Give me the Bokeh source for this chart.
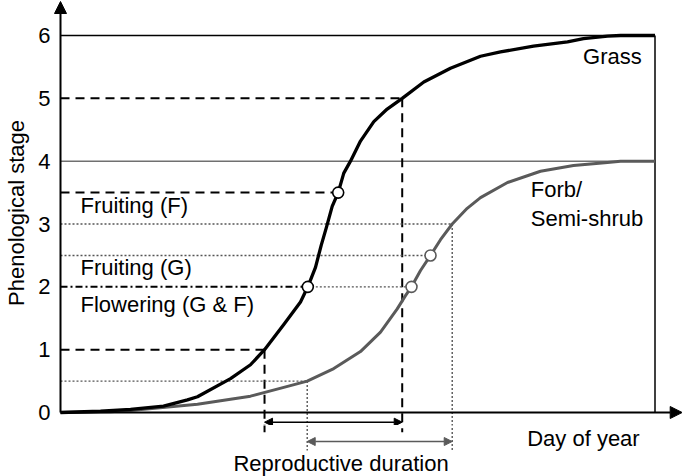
import numpy as np
from bokeh.plotting import figure
from bokeh.layouts import column
from bokeh.models import Arrow, NormalHead, FixedTicker, Range1d
from bokeh.core.properties import value
from bokeh.embed import file_html
from bokeh.resources import INLINE

# ---------------- data (schematic: day index 0-100, phenological stage 0-6) -------------
grass_day = [0, 6.73, 11.78, 17.33, 21.36, 23.04, 28.60, 31.96, 34.32, 37.56, 40.37, 41.60,
             42.89, 43.85, 44.74, 45.70, 46.71, 47.65, 48.78, 50.46, 52.70, 54.95, 57.48,
             61.11, 65.60, 70.65, 74.01, 79.56, 85.28, 87.97, 92.01, 94.20, 100]
grass_stage = [0, 0.02, 0.05, 0.1, 0.2, 0.25, 0.54, 0.76, 1.0, 1.40, 1.76, 2.0,
               2.31, 2.66, 2.95, 3.28, 3.5, 3.81, 4.0, 4.32, 4.63, 4.83, 5.0,
               5.26, 5.48, 5.67, 5.74, 5.83, 5.9, 5.95, 5.99, 6.0, 6.0]

forb_day = [0, 8.41, 11.78, 23.04, 28.60, 31.96, 37.56, 41.50, 45.97, 50.46, 53.83, 56.64,
            58.03, 59.04, 60.56, 62.24, 63.92, 65.89, 68.41, 70.65, 75.19, 80.74, 86.29,
            92.01, 94.20, 100]
forb_stage = [0, 0.01, 0.03, 0.13, 0.21, 0.26, 0.40, 0.5, 0.70, 0.97, 1.28, 1.65,
              1.86, 2.0, 2.26, 2.5, 2.75, 3.0, 3.25, 3.42, 3.66, 3.84, 3.93,
              3.98, 4.0, 4.0]

stage_ticks = [0, 1, 2, 3, 4, 5, 6]
grass_max, forb_max = 6, 4
grass_repro = [1, 5]        # start / end of reproductive duration (grass)
forb_repro = [0.5, 3]       # start / end of reproductive duration (forb)
grass_fruit = 3.5
forb_fruit = 2.5
flowering = 2
day_end = 100

# ---------------- layout ----------------
W, H_TOP, H_BOT = 682, 425, 51
x0_c, ux = 60.0, 5.945      # canvas x of day 0, px per day unit
y0_c, uy = 412.0, 62.83     # canvas y of stage 0, px per stage unit
LEFT = 50
x_range = Range1d((LEFT - x0_c) / ux, (W - x0_c) / ux)
y_top = y0_c / uy
y_split = -(H_TOP - y0_c) / uy
y_bottom = -(H_TOP + H_BOT - y0_c) / uy
TFIX = 8 / uy               # text baseline correction

FONT = "Liberation Sans"
FS = "22px"
BLACK, GREY, GREY_L, DOT = "#000000", "#5a5a5a", "#707070", "#555555"


def gx(s):
    return float(np.interp(s, grass_stage[:-1], grass_day[:-1]))


def fx(s):
    return float(np.interp(s, forb_stage[:-1], forb_day[:-1]))


def base_fig(h, yr, yaxis):
    f = figure(width=W, height=h, x_range=x_range, y_range=yr,
               output_backend="svg", toolbar_location=None, x_axis_location=None,
               y_axis_location="left" if yaxis else None, min_border_left=LEFT,
               min_border_right=0, min_border_top=0, min_border_bottom=0)
    f.outline_line_color = None
    f.grid.visible = False
    f.background_fill_color = "white"
    f.border_fill_color = "white"
    return f


p = base_fig(H_TOP, Range1d(y_split, y_top), True)
p2 = base_fig(H_BOT, Range1d(y_bottom, y_split), False)

ax = p.yaxis[0]
ax.ticker = FixedTicker(ticks=stage_ticks)
ax.axis_line_color = None
ax.major_tick_line_color = None
ax.minor_tick_line_color = None
ax.major_tick_out = 0
ax.major_tick_in = 0
ax.major_label_standoff = 0
ax.major_label_text_font = FONT
ax.major_label_text_font_size = FS
ax.major_label_text_color = "black"
ax.axis_label = "Phenological stage"
ax.axis_label_text_font = FONT
ax.axis_label_text_font_size = FS
ax.axis_label_text_font_style = "normal"
ax.axis_label_text_color = "black"
ax.axis_label_standoff = 6

# max-stage lines and right border
p.segment(x0=[0], y0=[grass_max], x1=[day_end], y1=[grass_max], line_color=BLACK, line_width=1.5)
p.segment(x0=[0], y0=[forb_max], x1=[day_end], y1=[forb_max], line_color=GREY_L, line_width=1.5)
p.segment(x0=[day_end], y0=[0], x1=[day_end], y1=[grass_max], line_color=BLACK, line_width=1.5)

# dashed black reference lines (grass)
gh = [grass_repro[0], grass_fruit, grass_repro[1]]
p.segment(x0=[0] * 3, y0=gh, x1=[gx(s) for s in gh], y1=gh,
          line_color=BLACK, line_width=2, line_dash="9 6")
for f in (p, p2):
    f.segment(x0=[gx(s) for s in grass_repro], y0=grass_repro,
              x1=[gx(s) for s in grass_repro], y1=[-0.314, -0.314],
              line_color=BLACK, line_width=2, line_dash="9 6")
# dash-dot flowering line
p.segment(x0=[0], y0=[flowering], x1=[gx(flowering)], y1=[flowering],
          line_color=BLACK, line_width=2, line_dash="7 3 2 3")

# dotted grey reference lines (forb)
fh = [forb_repro[0], forb_fruit, forb_repro[1]]
p.segment(x0=[0] * 3 + [gx(flowering)], y0=fh + [flowering],
          x1=[fx(s) for s in fh] + [fx(flowering)], y1=fh + [flowering],
          line_color=DOT, line_width=1.4, line_dash="2 2")
for f in (p, p2):
    f.segment(x0=[fx(s) for s in forb_repro], y0=forb_repro,
              x1=[fx(s) for s in forb_repro], y1=[-0.605, -0.605],
              line_color=DOT, line_width=1.4, line_dash="2 2")

# curves
p.line(forb_day, forb_stage, line_color=GREY, line_width=3, line_join="round")
p.line(grass_day, grass_stage, line_color=BLACK, line_width=3.3, line_join="round")

# markers
p.scatter([gx(flowering), gx(grass_fruit)], [flowering, grass_fruit], size=11,
          fill_color="white", line_color=BLACK, line_width=1.6)
p.scatter([fx(flowering), fx(forb_fruit)], [flowering, forb_fruit], size=11,
          fill_color="white", line_color=GREY, line_width=1.6)

# axes with arrows
p.add_layout(Arrow(end=NormalHead(size=12, fill_color=BLACK, line_color=BLACK),
                   x_start=0, y_start=0, x_end=0, y_end=y_top - 0.016,
                   line_color=BLACK, line_width=2))
p.add_layout(Arrow(end=NormalHead(size=12, fill_color=BLACK, line_color=BLACK),
                   x_start=0, y_start=0, x_end=x_range.end - 0.05, y_end=0,
                   line_color=BLACK, line_width=2))

# reproductive duration arrows (grass arrow lies in the upper panel, forb arrow in the lower)
p.add_layout(Arrow(start=NormalHead(size=8, fill_color=BLACK, line_color=BLACK),
                   end=NormalHead(size=8, fill_color=BLACK, line_color=BLACK),
                   x_start=gx(grass_repro[0]), y_start=-0.154,
                   x_end=gx(grass_repro[1]), y_end=-0.154,
                   line_color=BLACK, line_width=1.6))
p2.add_layout(Arrow(start=NormalHead(size=8, fill_color=GREY, line_color=GREY),
                    end=NormalHead(size=8, fill_color=GREY, line_color=GREY),
                    x_start=fx(forb_repro[0]), y_start=-0.462,
                    x_end=fx(forb_repro[1]), y_end=-0.462,
                    line_color=GREY, line_width=1.6))

# texts
p.text(x=[3.36, 3.36, 3.36, 87.9, 79.1, 79.1],
       y=[3.17 + TFIX, 2.18 + TFIX, 1.59 + TFIX, 5.534 + TFIX, 3.414 + TFIX, 2.96 + TFIX],
       text=["Fruiting (F)", "Fruiting (G)", "Flowering (G & F)", "Grass", "Forb/",
             "Semi-shrub"],
       text_font=value(FONT), text_font_size=FS, text_color=BLACK,
       text_baseline="alphabetic", text_align="left")
p2.text(x=[78.5], y=[-0.54 + TFIX], text=["Day of year"],
        text_font=value(FONT), text_font_size=FS, text_color=BLACK,
        text_baseline="alphabetic", text_align="left")
p2.text(x=[47.2], y=[-0.934 + TFIX], text=["Reproductive duration"],
        text_font=value(FONT), text_font_size=FS, text_color=BLACK,
        text_baseline="alphabetic", text_align="center")

layout = column(p, p2, spacing=0)
open("out.html", "w").write(file_html(layout, INLINE))
